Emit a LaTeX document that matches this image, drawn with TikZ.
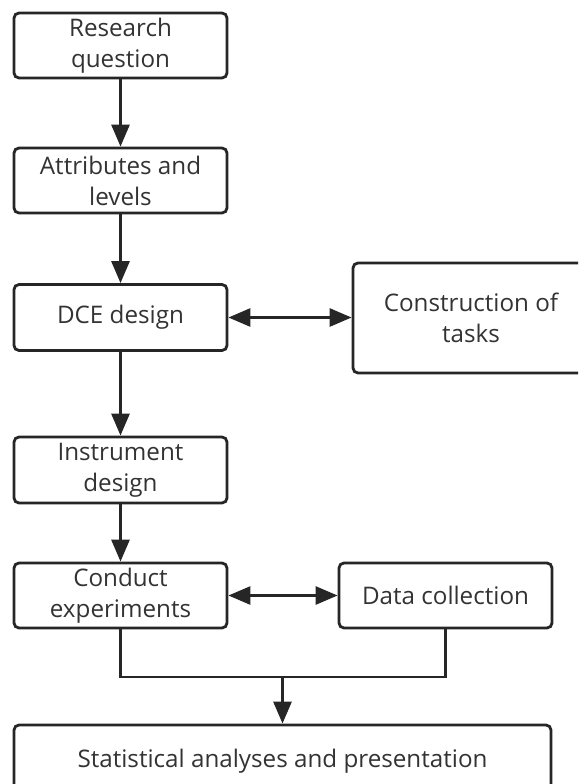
\documentclass[tikz,border=0pt]{standalone}
\usepackage{fontspec}
\setmainfont{Open Sans}
\usetikzlibrary{arrows.meta}
\definecolor{edge}{HTML}{262626}
\definecolor{ink}{HTML}{333333}
\tikzset{
  box/.style={draw=edge, line width=2.8pt, rounded corners=5pt, fill=white,
    text=ink, align=center, minimum width=213pt, minimum height=65pt,
    inner sep=0pt, font=\fontsize{24.2}{31}\selectfont},
}
\begin{document}
\begin{tikzpicture}[x=1pt, y=-1pt, >={Triangle[length=22pt, width=18pt]}, line width=2.8pt, color=edge]
    \clip (0,0) rectangle (578,784);

    % steps down the left side
    \node[box] (question) at (120.5,45.5) {Research\\question};
    \node[box] (attrib) at (120.5,180.5) {Attributes and\\levels};
    \node[box, minimum height=66pt] (dce) at (120.5,317.5) {DCE design};
    \node[box, minimum height=66pt] (instr) at (120.5,470) {Instrument\\design};
    \node[box] (conduct) at (120.5,595.5) {Conduct\\experiments};

    % boxes on the right
    \node[box, minimum width=236pt, minimum height=110pt] (tasks) at (471,318) {Construction of\\tasks};
    \node[box] (data) at (445.5,595.5) {Data collection};

    % last step
    \node[box, minimum width=537pt, minimum height=72pt] (stats) at (282.5,761) {Statistical analyses and presentation};
    \coordinate (join) at (282.5,677);

    % arrows down
    \draw[->] (question) -- (attrib);
    \draw[->] (attrib) -- (dce);
    \draw[->] (dce) -- (instr);
    \draw[->] (instr) -- (conduct);

    % two-way arrows
    \draw[<->] (dce.east) -- (dce.east -| tasks.west);
    \draw[<->] (conduct) -- (data);

    % both branches into the last box
    \draw (conduct) |- (join) -| (data);
    \draw[->] (join) -- (stats);
\end{tikzpicture}
\end{document}
